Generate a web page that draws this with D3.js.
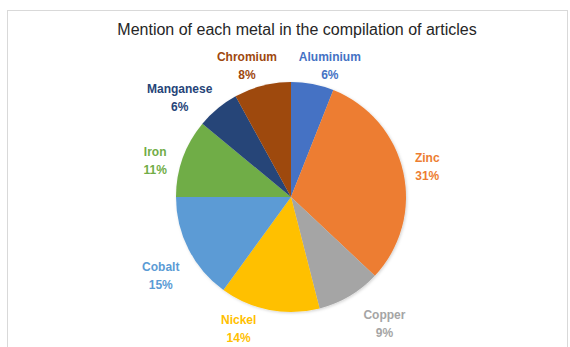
<!DOCTYPE html>
<html>
<head>
<meta charset="utf-8">
<script src="https://cdn.jsdelivr.net/npm/d3@7"></script>
<style>
  html, body { margin: 0; padding: 0; background: #fff; }
  svg { display: block; font-family: "Liberation Sans", Arial, sans-serif; }
</style>
</head>
<body>
<div id="chart"></div>
<script>
// data
const metals = ['Aluminium', 'Zinc', 'Copper', 'Nickel', 'Cobalt', 'Iron', 'Manganese', 'Chromium']
const shares = [6, 31, 9, 14, 15, 11, 6, 8]
const colors = ['#4472C4', '#ED7D31', '#A5A5A5', '#FFC000', '#5B9BD5', '#70AD47', '#264478', '#9E480E']

const width = 570
const height = 347
const cx = 291
const cy = 197
const radius = 115

// Excel pushed some labels a bit off the plain outside-end spot
const labelNudge = {
  Aluminium: [10, 6], Zinc: [4, 1], Copper: [20, 9], Nickel: [-26, -3],
  Cobalt: [-4, 17], Iron: [-9, 12], Manganese: [-12, 8], Chromium: [-6, 4]
}

const svg = d3.select('#chart')
  .append('svg')
  .attr('width', width)
  .attr('height', height)

// chart area border (runs off the right and bottom)
svg.append('rect')
  .attr('x', 7.5)
  .attr('y', 10.5)
  .attr('width', 560)
  .attr('height', 400)
  .attr('fill', '#fff')
  .attr('stroke', '#d9d9d9')

svg.append('text')
  .attr('x', 297)
  .attr('y', 35)
  .attr('text-anchor', 'middle')
  .attr('font-size', 16)
  .attr('fill', '#262626')
  .text('Mention of each metal in the compilation of articles')

const defs = svg.append('defs')
const shadow = defs.append('filter')
  .attr('id', 'shadow')
  .attr('x', '-10%').attr('y', '-10%')
  .attr('width', '120%').attr('height', '120%')
shadow.append('feDropShadow')
  .attr('dx', 1).attr('dy', 1)
  .attr('stdDeviation', 1.5)
  .attr('flood-color', '#000')
  .attr('flood-opacity', 0.18)

const data = metals.map((m, i) => ({ name: m, value: shares[i], color: colors[i] }))

const pie = d3.pie().sort(null).value(d => d.value)
const arc = d3.arc().innerRadius(0).outerRadius(radius)
const arcs = pie(data)

const g = svg.append('g')
  .attr('transform', `translate(${cx},${cy})`)

g.append('g')
  .attr('filter', 'url(#shadow)')
  .selectAll('path')
  .data(arcs)
  .join('path')
  .attr('d', arc)
  .attr('fill', d => d.data.color)

// labels: outside end, box edge sits a few px off the rim
const labels = g.selectAll('g.label')
  .data(arcs)
  .join('g')
  .attr('class', 'label')

labels.each(function (d) {
  const sel = d3.select(this)
  sel.append('text')
    .attr('y', -3)
    .text(d.data.name)
  sel.append('text')
    .attr('y', 15)
    .text(d.data.value + '%')
  sel.selectAll('text')
    .attr('text-anchor', 'middle')
    .attr('font-size', 12)
    .attr('font-weight', 'bold')
    .attr('fill', d.data.color)

  const bb = this.getBBox()
  const a = (d.startAngle + d.endAngle) / 2
  const sx = Math.sin(a)
  const sy = -Math.cos(a)
  const r = radius + 8
  const nudge = labelNudge[d.data.name]
  const x = r * sx + (bb.width / 2) * sx + nudge[0]
  const y = r * sy + 15 * sy + nudge[1]
  sel.attr('transform', `translate(${x},${y - 3})`)
})
</script>
</body>
</html>
